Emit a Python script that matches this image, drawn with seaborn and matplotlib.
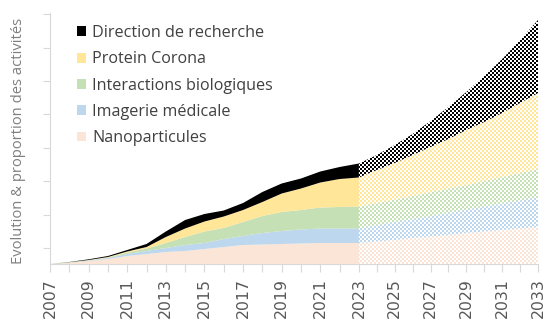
import numpy as np
import matplotlib
matplotlib.use("Agg")
import matplotlib.pyplot as plt
from matplotlib.patches import Patch
import seaborn as sns

# Activity index per research theme (stacked), observed years
years_hist = list(range(2007, 2024))
nano_hist = [0, 1, 3, 5, 8, 10, 12, 13, 15, 17, 19, 19.5, 20, 20.5, 21, 21, 21]
imag_hist = [0, 0.3, 0.5, 1, 2, 3, 4, 6, 6, 8, 9, 11.5, 13, 14, 14.5, 14.5, 14.5]
inter_hist = [0, 0.3, 0.3, 0.5, 1.5, 2.5, 5, 8, 11.5, 11, 14, 17, 19, 19.5, 21, 21.5, 22]
corona_hist = [0, 0.2, 0.2, 0.5, 1, 1.5, 6, 8.5, 10, 11.5, 12, 14, 18.5, 21.5, 25, 28, 29]
direction_hist = [0, 0.2, 0.7, 1, 1.5, 3, 5.5, 8.5, 7.5, 6, 7, 10, 10, 10, 11, 12, 14]

# Projected years
years_proj = list(range(2023, 2034))
nano_proj = [21, 22.5, 24, 26, 27.5, 29, 31, 32.5, 34, 35.5, 37]
imag_proj = [14.5, 16.5, 18, 19, 20.5, 22, 23.5, 25, 26.5, 28, 30]
inter_proj = [22, 22, 22.5, 23, 24, 24.5, 24.5, 25.5, 26.5, 27.5, 28]
corona_proj = [29, 33, 36.5, 41, 45, 49.5, 55, 59, 64, 70, 76]
direction_proj = [14, 15, 18, 21, 26, 32, 38, 46, 54, 63, 73]

series = ["Nanoparticules", "Imagerie médicale", "Interactions biologiques",
          "Protein Corona", "Direction de recherche"]
colors = ["#FBE5D6", "#BDD7EE", "#C5E0B4", "#FFE699", "#000000"]

xtick_years = list(range(2007, 2034, 2))
minor_years = list(range(2008, 2033, 2))
ytick_pos = [16, 49.4, 82.8, 116.2, 149.6, 183, 216.4, 249.8]

sns.set_theme(style="white")
plt.rcParams["font.family"] = ["Open Sans", "DejaVu Sans"]

W, H, DPI = 547, 322, 100
fig = plt.figure(figsize=(W / DPI, H / DPI), dpi=DPI)
ax = fig.add_axes([50 / W, 58 / H, 488 / W, 251 / H])
ax.patch.set_alpha(0)

# projected decade is drawn slightly compressed along x
BREAK = 2023
RATIO = 17.9 / 19.3


def fwd(x):
    x = np.asarray(x, dtype=float)
    return np.where(x <= BREAK, x, BREAK + (x - BREAK) * RATIO)


def inv(u):
    u = np.asarray(u, dtype=float)
    return np.where(u <= BREAK, u, BREAK + (u - BREAK) / RATIO)


ax.set_xscale("function", functions=(fwd, inv))
ax.set_xlim(2007, 2033)
ax.set_ylim(0, 251)

# observed: solid stacked areas
ax.stackplot(years_hist, nano_hist, imag_hist, inter_hist, corona_hist, direction_hist,
             colors=colors, linewidth=0, edgecolor="none")

# projection: invisible stacked areas used as clip shapes for a checkerboard fill
polys = ax.stackplot(years_proj, nano_proj, imag_proj, inter_proj, corona_proj, direction_proj,
                     colors=["none"] * 5, linewidth=0, edgecolor="none")

ii, jj = np.indices((H, W))
cell = 2
mask = ((ii // cell + jj // cell) % 2) == 0
for poly, col in zip(polys, colors):
    rgba = np.ones((H, W, 4))
    rgba[mask] = matplotlib.colors.to_rgba(col)
    im = fig.figimage(rgba, xo=0, yo=0, origin="upper", zorder=3)
    im.set_clip_path(poly.get_paths()[0], ax.transData)

# axes styling
for side in ["top", "right"]:
    ax.spines[side].set_visible(False)
for side in ["left", "bottom"]:
    ax.spines[side].set_color("#D9D9D9")
    ax.spines[side].set_linewidth(0.8)

ax.set_yticks(ytick_pos)
ax.set_yticklabels([])
ax.set_xticks(xtick_years)
ax.set_xticks(minor_years, minor=True)
ax.set_xticklabels([str(y) for y in xtick_years])
ax.tick_params(axis="y", left=True, length=5, width=0.8, color="#D9D9D9", direction="out")
ax.tick_params(axis="x", which="both", bottom=True, length=6, width=0.8, color="#D9D9D9",
               direction="out")
ax.tick_params(axis="x", which="major", labelrotation=90, labelsize=11.3,
               labelcolor="#595959", pad=4)
for lbl in ax.get_xticklabels():
    lbl.set_fontfamily("DejaVu Sans")

ax.set_ylabel("Evolution & proportion des activités", color="#7F7F7F", fontsize=10.6)
ax.yaxis.set_label_coords(-0.05, 0.49)

handles = [Patch(facecolor=c, edgecolor="none", label=s) for s, c in zip(series, colors)]
leg = fig.legend(handles=handles[::-1], loc="upper left",
                 bbox_to_anchor=(77 / W, 1 - 25 / H), bbox_transform=fig.transFigure,
                 frameon=False, fontsize=11.6, handlelength=0.56, handleheight=0.56,
                 handletextpad=0.38, labelspacing=0.64, borderpad=0, borderaxespad=0)
for t in leg.get_texts():
    t.set_color("#404040")

fig.savefig("out.png", dpi=DPI)
